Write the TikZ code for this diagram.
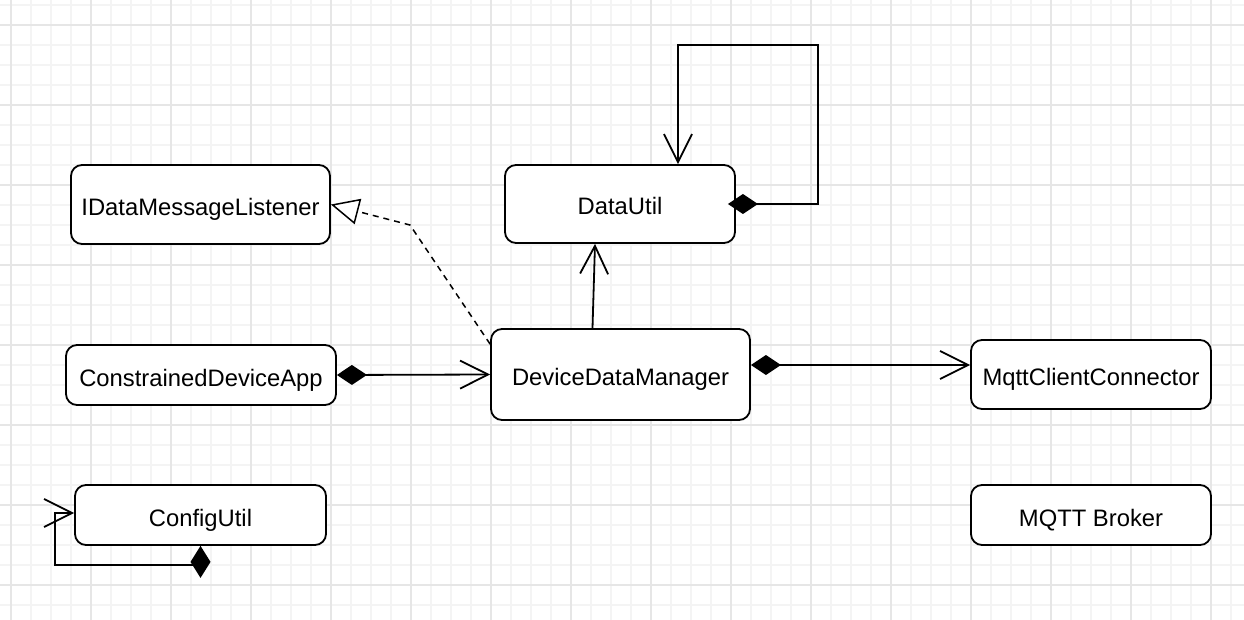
\documentclass[tikz,border=0pt]{standalone}
\usepackage{fontspec}
\setmainfont{Liberation Sans}
\usetikzlibrary{arrows.meta}

\definecolor{majorgrid}{HTML}{E6E6E6}
\definecolor{minorgrid}{HTML}{F4F4F4}

\begin{document}
\begin{tikzpicture}[x=1pt,y=-1pt,
			class node/.style={draw,line width=1.8pt,rounded corners=11pt,fill=white,inner sep=0pt,
				text height=22pt,text depth=0pt,font=\fontsize{23.8}{28}\selectfont},
			assoc/.style={line width=1.8pt,-{Straight Barb[length=28pt,width=28pt]}},
			comp/.style={line width=1.8pt,{Diamond[length=30pt,width=20pt]}-{Straight Barb[length=28pt,width=28pt]}},
			realize/.style={line width=1.5pt,dash pattern=on 6pt off 5pt,-{Triangle[open,length=28pt,width=26pt,fill=white]}}
			]
			
			\useasboundingbox (0,0) rectangle (1244,620);
			\fill[white] (0,0) rectangle (1244,620);
			
			% grid
			\foreach \g in {11,31,...,1231} {
				\draw[minorgrid,line width=1.5pt] (\g,0) -- (\g,620);
			}
			\foreach \g in {5,25,...,605} {
				\draw[minorgrid,line width=1.5pt] (0,\g) -- (1244,\g);
			}
			\foreach \g in {11,91,...,1211} {
				\draw[majorgrid,line width=1.5pt] (\g,0) -- (\g,620);
			}
			\foreach \g in {25,105,...,585} {
				\draw[majorgrid,line width=1.5pt] (0,\g) -- (1244,\g);
			}
			
			% classes
			\node[class node,minimum width=259pt,minimum height=79pt] (listener) at (200.5,204.5) {IDataMessageListener};
			\node[class node,minimum width=230pt,minimum height=78pt] (datautil) at (620,204) {DataUtil};
			\node[class node,minimum width=270pt,minimum height=60pt] (app) at (201,375) {ConstrainedDeviceApp};
			\node[class node,minimum width=259pt,minimum height=91pt] (ddm) at (620.5,374.5) {DeviceDataManager};
			\node[class node,minimum width=240pt,minimum height=69pt] (mqtt) at (1091,374.5) {MqttClientConnector};
			\node[class node,minimum width=251pt,minimum height=60pt] (config) at (200.5,515) {ConfigUtil};
			\node[class node,minimum width=240pt,minimum height=60pt] (broker) at (1091,515) {MQTT Broker};
			
			\coordinate (loopA) at (818,45);
			\coordinate (loopB) at (678,45);
			\coordinate (bend) at (410,225);
			\coordinate (cfgA) at (55,565);
			
			\draw[comp] ([xshift=-8pt]datautil.east) -| (loopA) -- (loopB) -- (loopB |- datautil.north);
			\draw[assoc] ([xshift=-28pt]ddm.north) -- ([xshift=-25pt]datautil.south);
			\draw[realize] ([yshift=-16pt]ddm.north west) -- (bend) -- (listener.east);
			\draw[comp] (app.east) -- (ddm.west);
			\draw[comp] ([yshift=9.5pt]ddm.east) -- ([yshift=9.5pt]mqtt.west);
			\draw[assoc] (config.south) |- (cfgA) |- ([yshift=2pt]config.west);
			\fill (config.south) -- ++(10,16) -- ++(-10,16) -- ++(-10,-16) -- cycle;
\end{tikzpicture}
\end{document}
